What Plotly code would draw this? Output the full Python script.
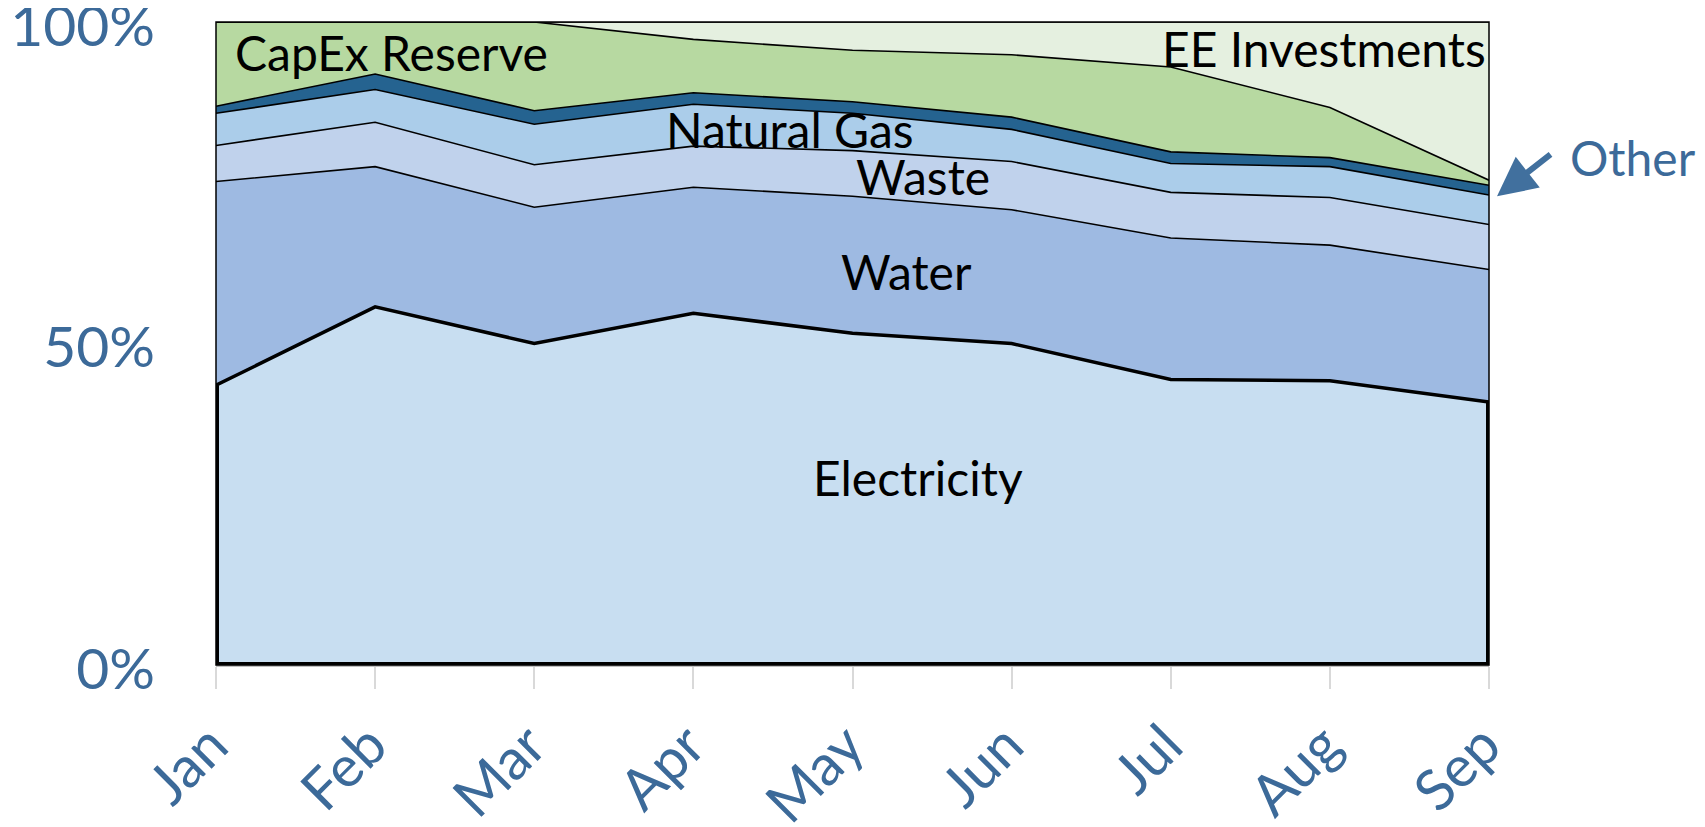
import plotly.graph_objects as go

months = ["Jan", "Feb", "Mar", "Apr", "May", "Jun", "Jul", "Aug", "Sep"]

electricity = [43.5, 55.7, 50.0, 54.7, 51.6, 50.0, 44.4, 44.2, 40.9]
water       = [31.7, 21.8, 21.2, 19.6, 21.3, 20.8, 22.0, 21.1, 20.6]
waste       = [5.6, 6.9, 6.6, 6.4, 7.1, 7.5, 7.1, 7.4, 7.0]
natural_gas = [5.0, 5.1, 6.3, 6.5, 5.8, 5.0, 4.5, 4.8, 4.6]
other       = [1.1, 2.4, 2.1, 1.8, 1.8, 1.9, 1.8, 1.4, 1.5]
capex       = [13.1, 8.1, 13.8, 8.3, 8.0, 9.7, 13.2, 7.8, 0.8]
ee_invest   = [0.0, 0.0, 0.0, 2.7, 4.4, 5.1, 7.0, 13.3, 24.6]

series = [
    ("Electricity", electricity, "#C8DEF1", 3.5),
    ("Water", water, "#9EBAE2", 1.6),
    ("Waste", waste, "#C0D2EC", 1.6),
    ("Natural Gas", natural_gas, "#ABCDEA", 1.6),
    ("Other", other, "#256390", 1.6),
    ("CapEx Reserve", capex, "#B7D9A1", 1.6),
    ("EE Investments", ee_invest, "#E5F0E0", 1.6),
]

FONT = "Lato"
BLUE = "#3C6A99"
FS = 48
TICK_FS = 57

fig = go.Figure()
for name, vals, color, lw in series:
    fig.add_trace(go.Scatter(
        x=months, y=vals, name=name, mode="lines",
        stackgroup="one", fillcolor=color,
        line=dict(color="black", width=lw),
        hoverinfo="skip",
    ))

# thick border of the electricity area along the axis edges
fig.add_trace(go.Scatter(
    x=[months[0], months[0], months[-1], months[-1]],
    y=[electricity[0], 0, 0, electricity[-1]],
    mode="lines", line=dict(color="black", width=6),
    hoverinfo="skip", showlegend=False,
))

labels = [
    ("CapEx Reserve", 1.10, 95.3),
    ("EE Investments", 6.96, 95.9),
    ("Natural Gas", 3.61, 83.3),
    ("Waste", 4.44, 76.0),
    ("Water", 4.34, 61.2),
    ("Electricity", 4.41, 29.1),
]
for txt, xi, yv in labels:
    fig.add_annotation(x=xi, y=yv, text=txt, showarrow=False,
                       font=dict(family=FONT, size=FS, color="black"),
                       xanchor="center", yanchor="middle")

fig.add_annotation(x=1.113, y=0.79, xref="paper", yref="paper", text="Other",
                   showarrow=False,
                   font=dict(family=FONT, size=FS, color=BLUE),
                   xanchor="center", yanchor="middle")
fig.add_annotation(x=1.0063, y=0.729, xref="paper", yref="paper", text="",
                   showarrow=True, ax=55, ay=-43,
                   arrowhead=2, arrowsize=1.3, arrowwidth=6, arrowcolor="#41709E")

fig.update_layout(
    width=1705, height=827,
    margin=dict(l=208, r=224, t=14, b=170, autoexpand=False),
    paper_bgcolor="white", plot_bgcolor="white",
    showlegend=False,
    font=dict(family=FONT, size=FS, color=BLUE),
    shapes=[dict(type="rect", xref="paper", yref="paper", x0=0, x1=1, y0=0, y1=1,
                 line=dict(color="black", width=1.5), layer="above")],
)
fig.update_xaxes(
    type="category", range=[0, 8], showgrid=False, zeroline=False,
    showline=True, linecolor="#BFBFBF", linewidth=2, automargin=False,
    ticks="outside", ticklen=22, tickcolor="#D9D9D9", tickwidth=2,
    tickangle=-45, ticklabelstandoff=0, ticklabelshift=-5, ticklabeloverflow="allow",
    tickfont=dict(family=FONT, size=TICK_FS, color=BLUE),
)
fig.update_yaxes(
    range=[0, 100], tickvals=[0, 50, 100], ticktext=["0%", "50%", "100%"],
    showgrid=False, zeroline=False, showline=False, ticks="", automargin=False,
    ticklabelstandoff=60, ticklabelshift=4, ticklabeloverflow="allow",
    tickfont=dict(family=FONT, size=TICK_FS, color=BLUE),
)

fig.write_html("out.html")
